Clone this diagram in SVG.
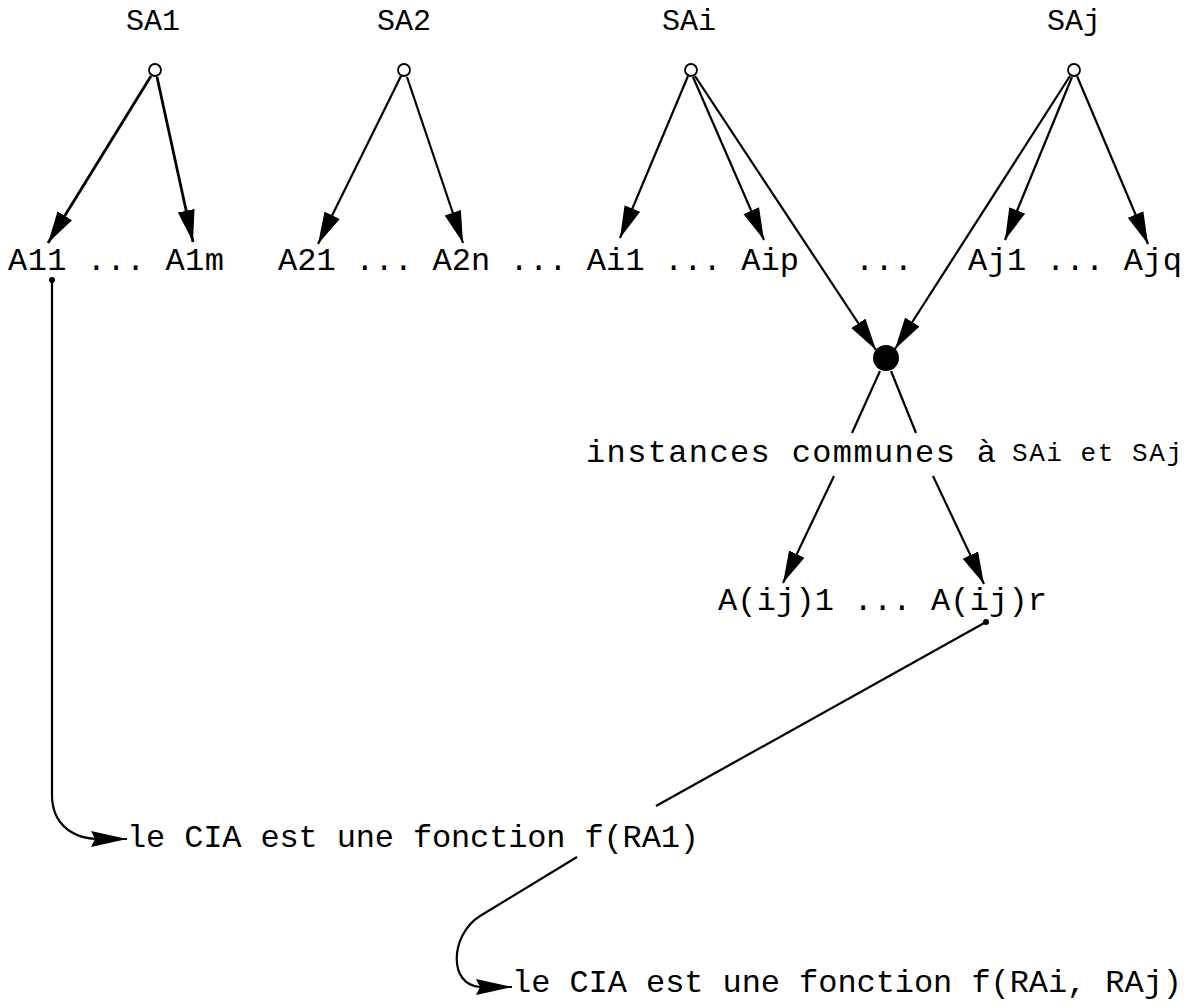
<svg xmlns="http://www.w3.org/2000/svg" width="1200" height="1006" viewBox="0 0 1200 1006">
<style>
  text { font-family: "Liberation Mono", "Courier New", monospace; fill: #000; }
  .lab { font-size: 30px; }
  .small { font-size: 26px; }
  .row { font-size: 32px; }
  .ln { stroke: #000; stroke-width: 2.2; fill: none; }
  .thick { stroke-width: 2.8; }
  .hub { fill: #fff; stroke: #000; stroke-width: 1.8; }
</style>
<defs>
  <marker id="ah" markerUnits="userSpaceOnUse" markerWidth="34" markerHeight="18" refX="32" refY="9" orient="auto" viewBox="0 0 34 18">
    <path d="M0,0.5 L32,9 L0,17.5 z" fill="#000"/>
  </marker>
  <marker id="ahr" markerUnits="userSpaceOnUse" markerWidth="38" markerHeight="18" refX="36" refY="9" orient="auto" viewBox="0 0 38 18">
    <path d="M0,1 L36,9 L0,17 L4,9 z" fill="#000"/>
  </marker>
</defs>

<g id="SA1">
  <text class="lab" x="153" y="30" text-anchor="middle">SA1</text>
  <circle class="hub" cx="155" cy="70" r="6"/>
</g>
<g id="SA2">
  <text class="lab" x="404" y="30" text-anchor="middle">SA2</text>
  <circle class="hub" cx="404" cy="70" r="6"/>
</g>
<g id="SAi">
  <text class="lab" x="689" y="30" text-anchor="middle">SAi</text>
  <circle class="hub" cx="691" cy="70" r="6"/>
</g>
<g id="SAj">
  <text class="lab" x="1074" y="30" text-anchor="middle">SAj</text>
  <circle class="hub" cx="1074" cy="70" r="6"/>
</g>

<g id="row-attributes">
  <text class="row" x="8" y="270" textLength="216" lengthAdjust="spacing">A11 ... A1m</text>
  <text class="row" x="278" y="270" textLength="521" lengthAdjust="spacing">A21 ... A2n ... Ai1 ... Aip</text>
  <text class="row" x="855" y="270" textLength="58" lengthAdjust="spacing">...</text>
  <text class="row" x="968" y="270" textLength="214" lengthAdjust="spacing">Aj1 ... Ajq</text>
</g>

<g id="common">
  <circle cx="886" cy="358" r="13" fill="#000"/>
  <text class="row" x="586" y="462" textLength="410" lengthAdjust="spacing">instances communes à</text>
  <text class="small" x="1012" y="461" textLength="170" lengthAdjust="spacing">SAi et SAj</text>
</g>

<g id="row-common">
  <text class="row" x="718" y="610" textLength="329" lengthAdjust="spacing">A(ij)1 ... A(ij)r</text>
</g>

<g id="result1">
  <text class="row" x="127" y="847" textLength="572" lengthAdjust="spacing">le CIA est une fonction f(RA1)</text>
</g>
<g id="result2">
  <text class="row" x="512" y="992" textLength="670" lengthAdjust="spacing">le CIA est une fonction f(RAi, RAj)</text>
</g>

<g id="connectors">
  <line class="ln thick" x1="151" y1="76" x2="48" y2="243" marker-end="url(#ah)"/>
  <line class="ln thick" x1="157" y1="77" x2="193" y2="242" marker-end="url(#ah)"/>
  <line class="ln" x1="401" y1="76" x2="318" y2="244" marker-end="url(#ah)"/>
  <line class="ln" x1="407" y1="77" x2="463" y2="243" marker-end="url(#ah)"/>
  <line class="ln" x1="688" y1="76" x2="620" y2="238" marker-end="url(#ah)"/>
  <line class="ln" x1="693" y1="77" x2="764" y2="240" marker-end="url(#ah)"/>
  <line class="ln" x1="695" y1="76" x2="876" y2="350" marker-end="url(#ah)"/>
  <line class="ln" x1="1070" y1="76" x2="895" y2="349" marker-end="url(#ah)"/>
  <line class="ln" x1="1072" y1="77" x2="1005" y2="240" marker-end="url(#ah)"/>
  <line class="ln" x1="1077" y1="76" x2="1148" y2="244" marker-end="url(#ah)"/>
  <line class="ln" x1="880" y1="371" x2="852" y2="433"/>
  <line class="ln" x1="891" y1="371" x2="916" y2="433"/>
  <line class="ln" x1="834" y1="476" x2="783" y2="583" marker-end="url(#ah)"/>
  <line class="ln" x1="933" y1="476" x2="984" y2="584" marker-end="url(#ah)"/>
  <circle cx="52" cy="280" r="3" fill="#000"/>
  <path class="ln" d="M52,280 L52,795 C52,822 70,839 100,839 L127,839" marker-end="url(#ahr)"/>
  <circle cx="986" cy="622" r="3" fill="#000"/>
  <line class="ln" x1="986" y1="622" x2="656" y2="806"/>
  <path class="ln" d="M577,857 L480,916 C450,935 448,985 480,987 L512,987" marker-end="url(#ahr)"/>
</g>
</svg>
